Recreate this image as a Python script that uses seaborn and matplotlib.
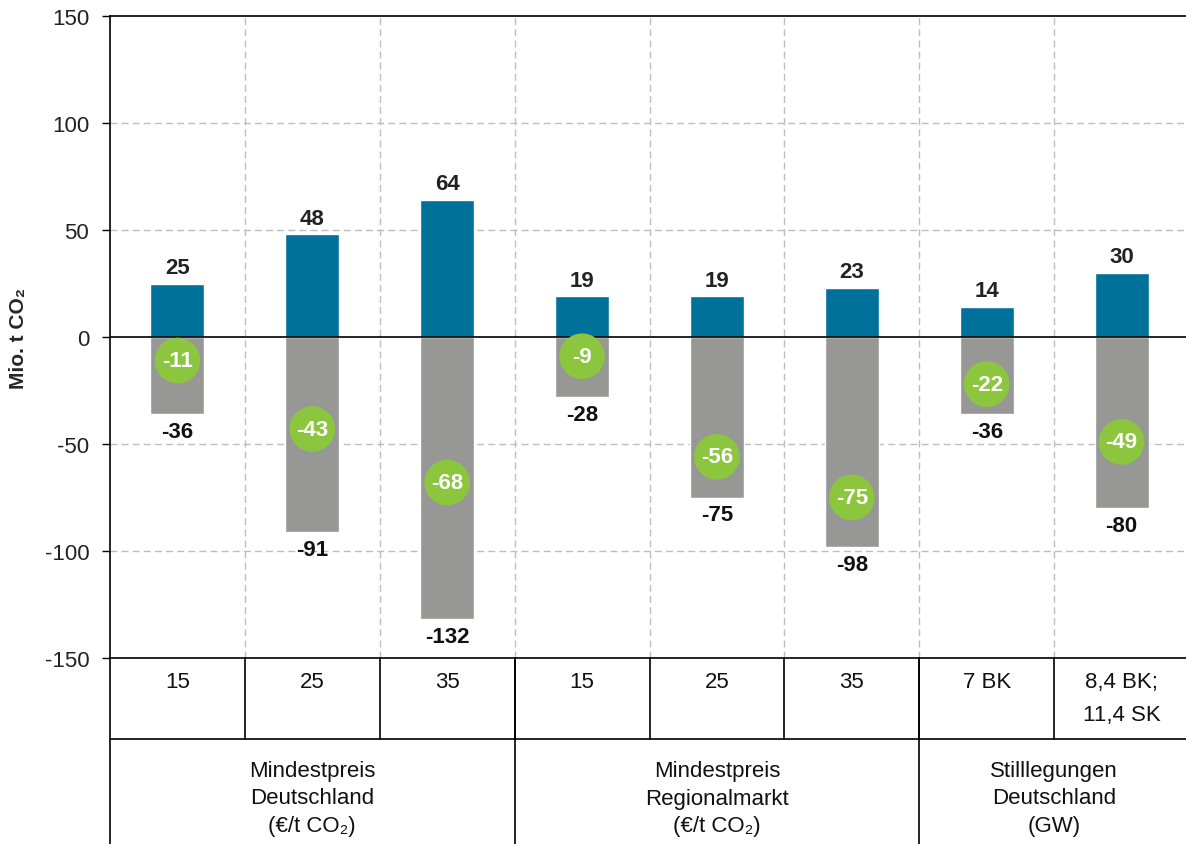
import numpy as np
import pandas as pd
import matplotlib
matplotlib.use("Agg")
import matplotlib.pyplot as plt
import matplotlib.transforms as mtransforms
import seaborn as sns

# scenario data (Mio. t CO2)
scenarios = ["DE 15", "DE 25", "DE 35", "RM 15", "RM 25", "RM 35", "SL 7", "SL 8,4"]
increase = [25, 48, 64, 19, 19, 23, 14, 30]
decrease = [-36, -91, -132, -28, -75, -98, -36, -80]
net = [-11, -43, -68, -9, -56, -75, -22, -49]

cat_labels = ["15", "25", "35", "15", "25", "35", "7 BK", "8,4 BK;\n11,4 SK"]
group_labels = ["Mindestpreis\nDeutschland\n(€/t CO₂)",
                "Mindestpreis\nRegionalmarkt\n(€/t CO₂)",
                "Stilllegungen\nDeutschland\n(GW)"]
group_sizes = [3, 3, 2]

blue = "#00719B"
grey = "#979896"
green = "#8CC63F"

sns.set_theme(style="white")
plt.rcParams["font.family"] = ["Liberation Sans", "DejaVu Sans"]

df = pd.DataFrame({"scenario": scenarios, "increase": increase,
                   "decrease": decrease, "net": net})

fig = plt.figure(figsize=(11.86, 8.45), dpi=100)
ax = fig.add_axes([110 / 1186, 1 - 659 / 845, 1079 / 1186, 642 / 845])

sns.barplot(data=df, x="scenario", y="increase", color=blue, width=0.4,
            saturation=1, ax=ax, zorder=2)
sns.barplot(data=df, x="scenario", y="decrease", color=grey, width=0.4,
            saturation=1, ax=ax, zorder=2)
pos = np.arange(len(scenarios))
ax.scatter(pos, df["net"], s=1080, color=green, edgecolor="none", zorder=4)

ax.set_xlim(-0.5, len(scenarios) - 0.5)
ax.set_ylim(-150, 150)
ax.set_yticks([-150, -100, -50, 0, 50, 100, 150])
ax.set_yticklabels(["-150", "-100", "-50", "0", "50", "100", "150"])
ax.tick_params(axis="y", labelsize=16, length=6, width=1, color="black",
               left=True, pad=9, labelcolor="#222222")
ax.tick_params(axis="x", bottom=False, labelbottom=False)
ax.set_xlabel("")
ax.set_ylabel("Mio. t CO₂", fontsize=15, fontweight="bold", labelpad=12)

for s in ["left", "top", "bottom"]:
    ax.spines[s].set_color("black")
    ax.spines[s].set_linewidth(1.2)
ax.spines["right"].set_visible(False)

# grid
for yv in [-100, -50, 50, 100]:
    ax.axhline(yv, color="#BDBDBD", lw=1, ls=(0, (5, 3)), zorder=0)
for xv in pos[:-1] + 0.5:
    ax.axvline(xv, color="#BDBDBD", lw=1, ls=(0, (5, 3)), zorder=0)
ax.axhline(0, color="black", lw=1.2, zorder=3)

# value labels
for i in range(len(scenarios)):
    ax.annotate(str(increase[i]), (i, increase[i]), xytext=(0, 4),
                textcoords="offset points", ha="center", va="bottom",
                fontsize=16, fontweight="bold", color="#222222")
    ax.annotate(str(decrease[i]), (i, decrease[i]), xytext=(0, -5),
                textcoords="offset points", ha="center", va="top",
                fontsize=16, fontweight="bold", color="#111111")
    ax.text(i, net[i], str(net[i]), ha="center", va="center", fontsize=16,
            fontweight="bold", color="white", zorder=5)

# table below the plot
trans = mtransforms.blended_transform_factory(ax.transData, ax.transAxes)
row1 = -81 / 642
row2 = -186 / 642
lk = dict(color="black", lw=1.2, transform=trans, clip_on=False)
ax.plot([-0.5, len(scenarios) - 0.5], [row1, row1], **lk)
ax.plot([-0.5, -0.5], [0, row2], **lk)
for xv in pos[:-1] + 0.5:
    ax.plot([xv, xv], [0, row1], **lk)
start = 0
for g, n in zip(group_labels, group_sizes):
    ax.text(start + (n - 1) / 2, -140 / 642, g, transform=trans, ha="center",
            va="center", fontsize=16, linespacing=1.4, color="#111111")
    start += n
    if start < len(scenarios):
        ax.plot([start - 0.5, start - 0.5], [0, row2], **lk)
for i, lab in enumerate(cat_labels):
    ax.text(i, -13 / 642, lab, transform=trans, ha="center", va="top",
            fontsize=16, linespacing=1.75, color="#111111")

fig.savefig("out.png", dpi=100)
